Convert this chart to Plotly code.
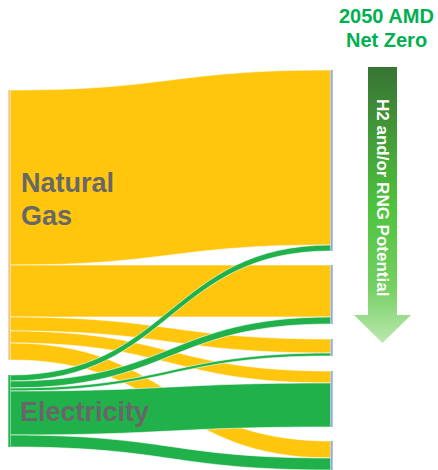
import base64
import plotly.graph_objects as go

# ---------------- data ----------------
node_names = ["Natural Gas", "Electricity", "End use 1", "End use 2", "End use 3", "End use 4", "End use 5"]
sources = ["Natural Gas"] * 5 + ["Electricity"] * 5
targets = ["End use 1", "End use 2", "End use 3", "End use 4", "End use 5"] * 2
gas_values = [175, 52, 14, 12, 17]
elec_values = [6, 7, 3, 44, 12]
values = gas_values + elec_values

title_lines = ["2050 AMD", "Net Zero"]
arrow_text = "H2 and/or RNG Potential"

# ---------------- styles / layout ----------------
W, H = 438, 470
YELLOW = "#FFC60D"
GREEN = "#21B14B"
GRAY = "#676767"
TITLE_GREEN = "#00B050"

top_px, bot_px = 60, 470
dom_h = bot_px - top_px
left_px, right_px = 9, 332
total = sum(values)
pad = (dom_h - total) / 4.0  # five nodes in right column -> 1 px per unit

idx = {n: i for i, n in enumerate(node_names)}
inflow = {n: 0 for n in node_names}
for s, t, v in zip(sources, targets, values):
    inflow[t] += v
node_size = [sum(gas_values), sum(elec_values)] + [inflow[n] for n in node_names[2:]]

node_top_px = [90, 375, 70, 265, 339, 371, 441]
node_x = [0.001, 0.001] + [0.999] * 5
node_y = [((tp + sz / 2.0) - top_px) / dom_h for tp, sz in zip(node_top_px, node_size)]

link_colors = [YELLOW if s == "Natural Gas" else GREEN for s in sources]
node_colors = ["#F5C47E", GREEN] + ["#8FAADC"] * 5

fig = go.Figure(go.Sankey(
    arrangement="fixed",
    domain=dict(x=[left_px / W, right_px / W], y=[0, 1 - top_px / H]),
    node=dict(
        label=[""] * len(node_names),
        x=node_x,
        y=node_y,
        pad=pad,
        thickness=2,
        color=node_colors,
        line=dict(width=0),
    ),
    link=dict(
        source=[idx[s] for s in sources],
        target=[idx[t] for t in targets],
        value=values,
        color=link_colors,
        line=dict(color="white", width=0.6),
    ),
))

def py(px):
    return 1 - px / H

def px_x(px):
    return px / W

font_family = "Liberation Sans, Arial, sans-serif"
annotations = [
    dict(text="<b>Natural</b>", x=px_x(19), y=py(183), xanchor="left", yanchor="middle",
         font=dict(family=font_family, size=27, color=GRAY)),
    dict(text="<b>Gas</b>", x=px_x(19), y=py(216), xanchor="left", yanchor="middle",
         font=dict(family=font_family, size=27, color=GRAY)),
    dict(text="<b>Electricity</b>", x=px_x(18), y=py(411.5), xanchor="left", yanchor="middle",
         font=dict(family=font_family, size=27, color=GRAY)),
    dict(text="<b>" + title_lines[0] + "</b>", x=px_x(386), y=py(16.5), xanchor="center", yanchor="middle",
         font=dict(family=font_family, size=20, color=TITLE_GREEN)),
    dict(text="<b>" + title_lines[1] + "</b>", x=px_x(386), y=py(40), xanchor="center", yanchor="middle",
         font=dict(family=font_family, size=20, color=TITLE_GREEN)),
    dict(text="<b>" + arrow_text + "</b>", x=px_x(382.5), y=py(197.5), xanchor="center", yanchor="middle",
         textangle=90, font=dict(family=font_family, size=17, color="white")),
]
for a in annotations:
    a.update(xref="paper", yref="paper", showarrow=False)

# gradient arrow as inline SVG
ax0, ax1, ay0, ay1 = 354, 411, 67, 343
aw, ah = ax1 - ax0, ay1 - ay0
shaft_l, shaft_r, head_y = 14, 43, 248
svg = f'''<svg xmlns="http://www.w3.org/2000/svg" width="{aw}" height="{ah}" viewBox="0 0 {aw} {ah}" preserveAspectRatio="none">
<defs><linearGradient id="g" x1="0" y1="0" x2="0" y2="1">
<stop offset="0" stop-color="#387434"/>
<stop offset="0.5" stop-color="#4DC23C"/>
<stop offset="0.8" stop-color="#74D063"/>
<stop offset="1" stop-color="#BCE8AE"/>
</linearGradient></defs>
<path d="M{shaft_l},0 L{shaft_r},0 L{shaft_r},{head_y} L{aw},{head_y} L{aw/2},{ah} L0,{head_y} L{shaft_l},{head_y} Z" fill="url(#g)"/>
</svg>'''
src = "data:image/svg+xml;base64," + base64.b64encode(svg.encode()).decode()

fig.update_layout(
    width=W, height=H,
    margin=dict(l=0, r=0, t=0, b=0),
    paper_bgcolor="white",
    plot_bgcolor="white",
    annotations=annotations,
    images=[dict(source=src, xref="paper", yref="paper", x=px_x(ax0), y=py(ay0),
                 sizex=aw / W, sizey=ah / H, xanchor="left", yanchor="top",
                 sizing="stretch", layer="below")],
    showlegend=False,
)

fig.write_html("out.html")
